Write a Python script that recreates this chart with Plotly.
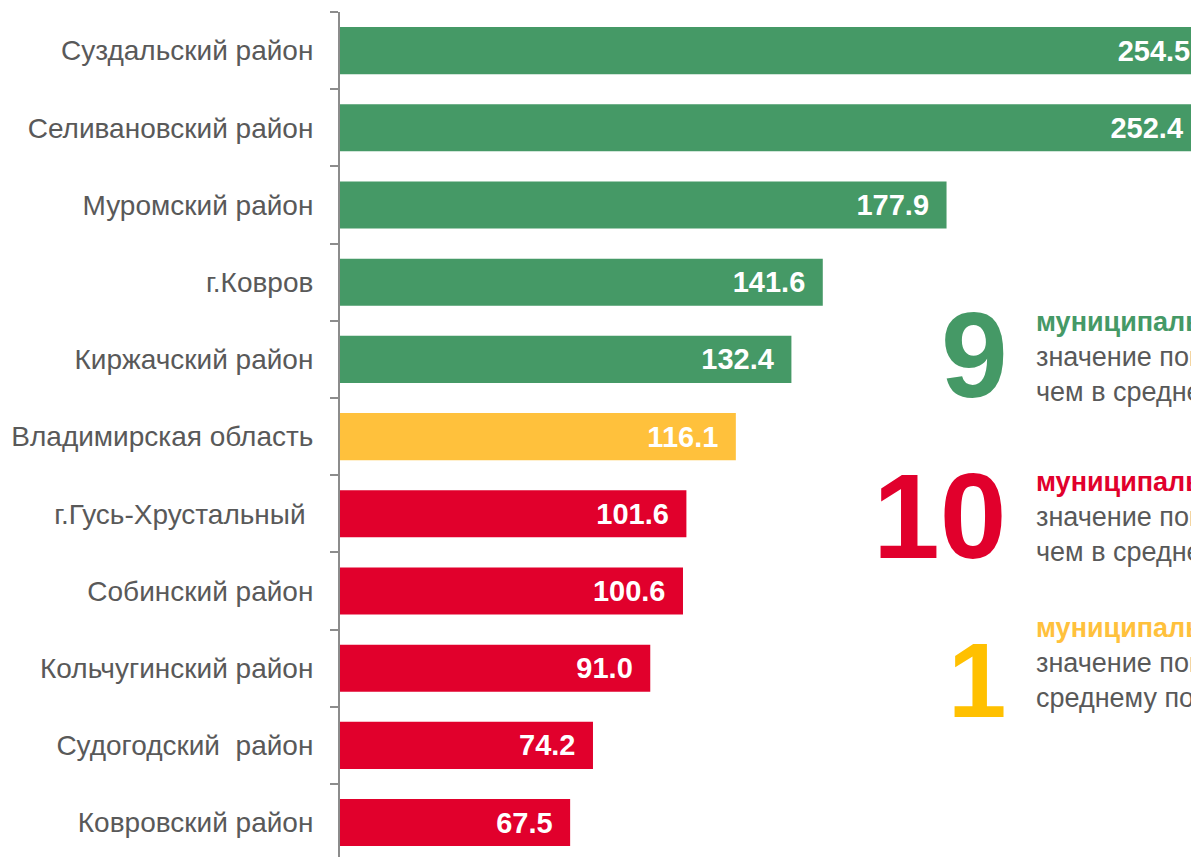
import plotly.graph_objects as go

categories = [
    "Суздальский район",
    "Селивановский район",
    "Муромский район",
    "г.Ковров",
    "Киржачский район",
    "Владимирская область",
    "г.Гусь-Хрустальный\u00a0",
    "Собинский район",
    "Кольчугинский район",
    "Судогодский\u00a0\u00a0район",
    "Ковровский район",
]
values = [254.5, 252.4, 177.9, 141.6, 132.4, 116.1, 101.6, 100.6, 91.0, 74.2, 67.5]
groups = ["above", "above", "above", "above", "above", "avg",
          "below", "below", "below", "below", "below"]

GREEN = "#459966"
RED = "#E1002C"
YELLOW = "#FFC13C"
GRAY = "#595959"
group_colors = {"above": GREEN, "below": RED, "avg": YELLOW}

summary_counts = ["9", "10", "1"]
summary_heads = ["муниципальных образований", "муниципальных образований", "муниципальное образование"]
summary_lines = [
    ["значение показателя выше,", "чем в среднем по области"],
    ["значение показателя ниже,", "чем в среднем по области"],
    ["значение показателя равно", "среднему по области"],
]
summary_colors = [GREEN, RED, YELLOW]
summary_num_colors = [GREEN, RED, "#FFC000"]

FONT = "Liberation Sans, Arial, sans-serif"
W, H = 1191, 857
ML, MR, MT, MB = 340, 0, 12, 0
PW, PH = W - ML - MR, H - MT - MB

def px2paper(x, y):
    return (x - ML) / PW, (H - MB - y) / PH

fig = go.Figure()
fig.add_trace(go.Bar(
    y=categories,
    x=values,
    orientation="h",
    marker=dict(color=[group_colors[g] for g in groups], line=dict(width=0)),
    text=[f"{v:.1f}\u2002" for v in values],
    textposition="inside",
    insidetextanchor="end",
    textfont=dict(family=FONT, size=29, color="white", weight="bold"),
    hoverinfo="skip",
))

# summary blocks
num_pos = [(1010, 355, 120), (1008, 516, 120), (1008, 680, 105)]
txt_pos = [(1034, 357), (1034, 517), (1034, 663)]
for i in range(3):
    nx, ny, ns = num_pos[i]
    px_, py_ = px2paper(nx, ny)
    fig.add_annotation(
        x=px_, y=py_, xref="paper", yref="paper", xanchor="right", yanchor="middle",
        text=f"<b>{summary_counts[i]}</b>", showarrow=False,
        font=dict(family=FONT, size=ns, color=summary_num_colors[i]),
    )
    tx, ty = txt_pos[i]
    qx, qy = px2paper(tx, ty)
    txt = (f"<b><span style='color:{summary_colors[i]}'>{summary_heads[i]}</span></b><br>"
           + "<br>".join(summary_lines[i]))
    fig.add_annotation(
        x=qx, y=qy, xref="paper", yref="paper", xanchor="left", yanchor="middle",
        align="left", text=txt, showarrow=False,
        font=dict(family=FONT, size=27, color=GRAY),
    )

fig.update_layout(
    width=W, height=H,
    margin=dict(l=ML, r=MR, t=MT, b=MB, pad=0),
    paper_bgcolor="white", plot_bgcolor="white",
    bargap=0.39,
    showlegend=False,
    xaxis=dict(visible=False, range=[0, 249.6], showgrid=False, zeroline=False),
    yaxis=dict(
        type="category", categoryorder="array", categoryarray=categories,
        range=[10.446, -0.5],
        showline=True, linecolor="#8C8C8C", linewidth=2,
        ticks="outside", ticklen=8, tickwidth=2, tickcolor="#8C8C8C",
        tickson="boundaries", showgrid=False, zeroline=False,
        ticklabelstandoff=19,
        tickfont=dict(family=FONT, size=28, color=GRAY),
    ),
)

fig.write_html("out.html", config={"displayModeBar": False},
               post_script="document.body.style.margin='0';")
